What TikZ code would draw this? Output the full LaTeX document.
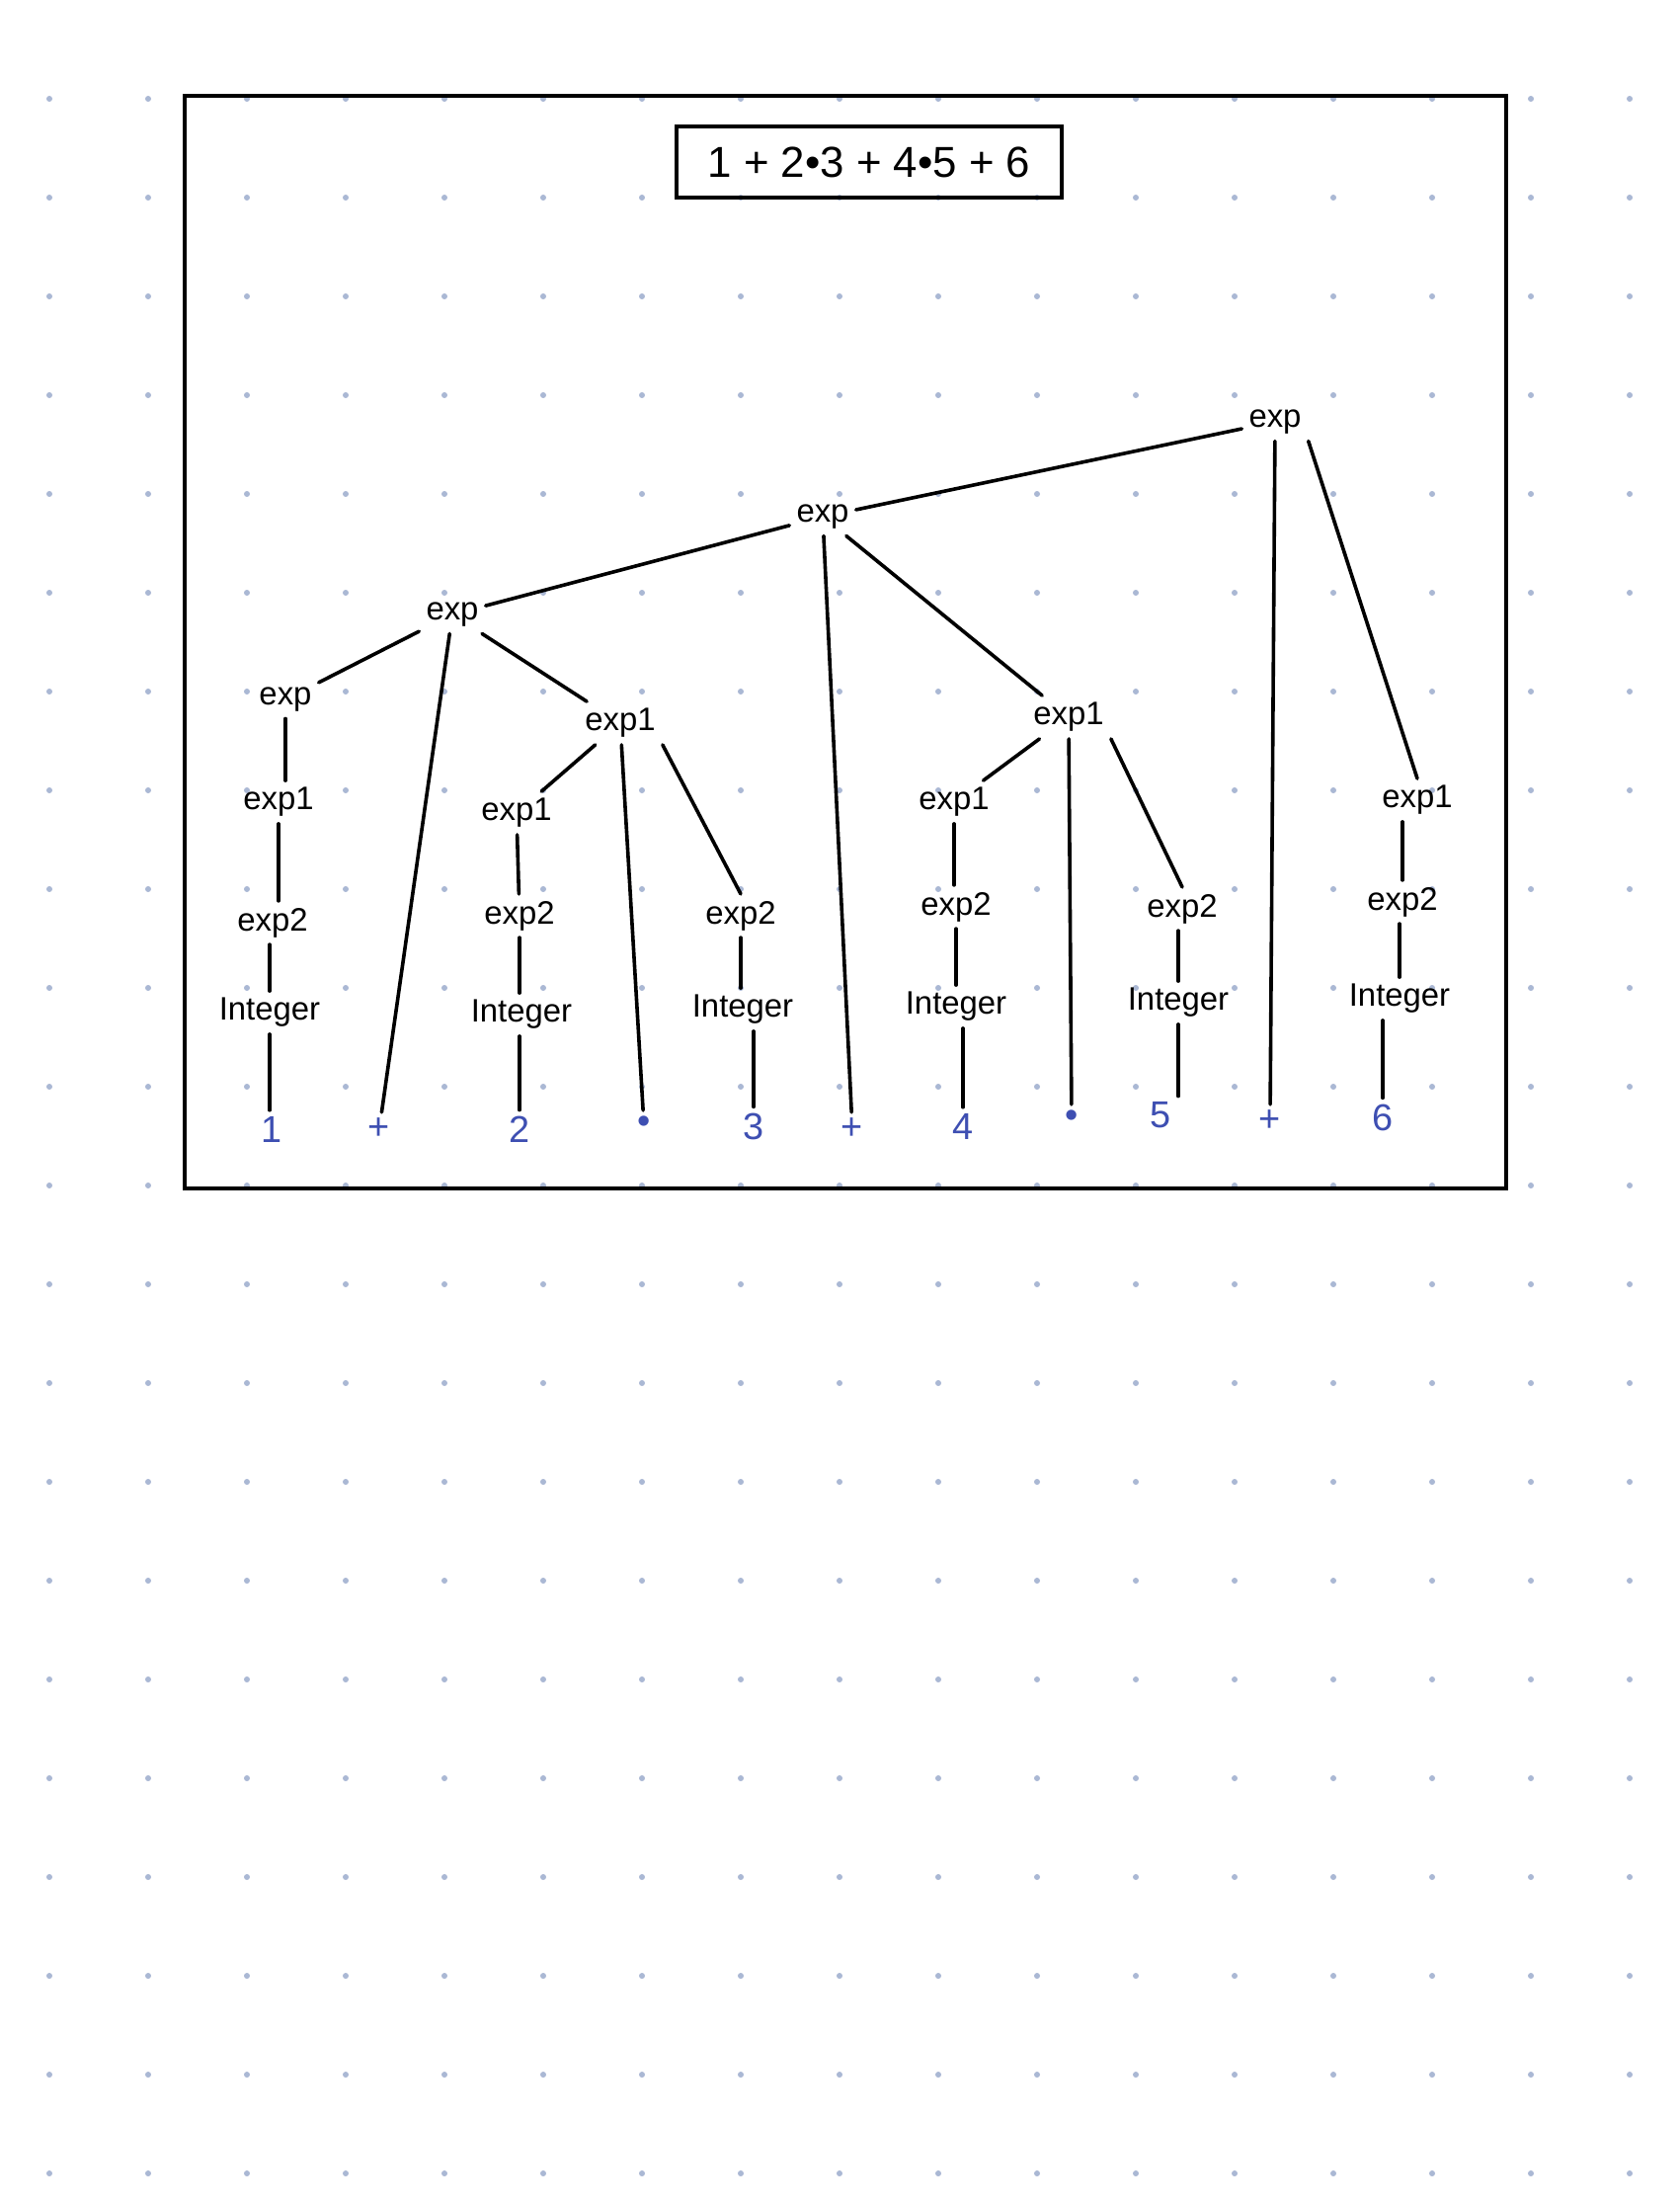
\documentclass[tikz,border=0pt]{standalone}
\usepackage{fontspec}
\setmainfont{Liberation Sans}
\definecolor{dotc}{HTML}{AAB8D4}
\definecolor{leafc}{HTML}{3E4FB2}
\newcommand\treefont{\fontsize{33}{38}\selectfont}
\newcommand\leaffont{\fontsize{38}{44}\selectfont}
\newcommand\titlefont{\fontsize{44}{50}\selectfont}
\begin{document}
\begin{tikzpicture}[x=1bp,y=-1bp,
  tn/.style={font=\treefont, inner sep=7bp},
  lf/.style={font=\leaffont, text=leafc, inner sep=6bp},
  conn/.style={line width=3.6bp, line cap=round}]
\useasboundingbox (0,0) rectangle (1700,2232);
\fill[white] (0,0) rectangle (1700,2232);
\foreach \i in {0,...,16}{\foreach \j in {1,...,22}{\fill[dotc] (50+100*\i,100*\j) circle[radius=3bp];}}
\draw[line width=4bp] (187,97) rectangle (1525,1203);
\node[draw, line width=3.5bp, minimum width=390bp, minimum height=72bp, font=\titlefont, inner sep=0pt] (title) at (880,164) {1 + 2•3 + 4•5 + 6};
% tree nodes
\node[tn] (root) at (1291,427) {exp};
\node[tn] (A) at (833,523) {exp};
\node[tn] (B) at (458,622) {exp};
\node[tn] (C) at (289,708) {exp};
\node[tn] (C1) at (282,812) {exp1};
\node[tn] (C2) at (276,934) {exp2};
\node[tn] (C3) at (273,1025) {Integer};
\node[lf] (L1) at (275,1143) {1};
\node[lf] (P1) at (384,1143) {+};
\node[tn] (D) at (628,732) {exp1};
\node[tn] (D1) at (523,823) {exp1};
\node[tn] (D2) at (526,927) {exp2};
\node[tn] (D3) at (528,1027) {Integer};
\node[lf] (L2) at (526,1143) {2};
\node[lf] (M1) at (652,1139) {•};
\node[tn] (D4) at (750,927) {exp2};
\node[tn] (D5) at (752,1022) {Integer};
\node[lf] (L3) at (763,1140) {3};
\node[lf] (P2) at (863,1143) {+};
\node[tn] (E) at (1082,726) {exp1};
\node[tn] (E1) at (966,812) {exp1};
\node[tn] (E2) at (968,918) {exp2};
\node[tn] (E3) at (968,1019) {Integer};
\node[lf] (L4) at (975,1140) {4};
\node[lf] (M2) at (1085,1133) {•};
\node[tn] (E4) at (1197,920) {exp2};
\node[tn] (E5) at (1193,1015) {Integer};
\node[lf] (L5) at (1175,1129) {5};
\node[lf] (P3) at (1286,1135) {+};
\node[tn] (F) at (1435,810) {exp1};
\node[tn] (F2) at (1420,913) {exp2};
\node[tn] (F3) at (1417,1011) {Integer};
\node[lf] (L6) at (1400,1131) {6};
% connectors
\draw[conn] (root) -- (A);
\draw[conn] (root) -- (P3);
\draw[conn] (root.south east) -- (F.north);
\draw[conn] (A) -- (B);
\draw[conn] (A) -- (P2);
\draw[conn] (A) -- (E);
\draw[conn] (B) -- (C);
\draw[conn] (B) -- (P1);
\draw[conn] (B) -- (D);
\draw[conn] (C.south) -- (C.south |- C1.north);
\draw[conn] (C1.south) -- (C1.south |- C2.north);
\draw[conn] (C3.north) -- (C3.north |- C2.south);
\draw[conn] (C3.south) -- (C3.south |- L1.north);
\draw[conn] (D) -- (D1);
\draw[conn] (D) -- (M1);
\draw[conn] (D.south east) -- (D4.north);
\draw[conn] (D1) -- (D2);
\draw[conn] (D2.south) -- (D2.south |- D3.north);
\draw[conn] (L2.north) -- (L2.north |- D3.south);
\draw[conn] (D4.south) -- (D4.south |- D5.north);
\draw[conn] (L3.north) -- (L3.north |- D5.south);
\draw[conn] (E) -- (E1);
\draw[conn] (E) -- (M2);
\draw[conn] (E.south east) -- (E4.north);
\draw[conn] (E1.south) -- (E1.south |- E2.north);
\draw[conn] (E2.south) -- (E2.south |- E3.north);
\draw[conn] (L4.north) -- (L4.north |- E3.south);
\draw[conn] (E5.north) -- (E5.north |- E4.south);
\draw[conn] (E5.south) -- (E5.south |- L5.north);
\draw[conn] (F2.north) -- (F2.north |- F.south);
\draw[conn] (F3.north) -- (F3.north |- F2.south);
\draw[conn] (L6.north) -- (L6.north |- F3.south);
\end{tikzpicture}
\end{document}
